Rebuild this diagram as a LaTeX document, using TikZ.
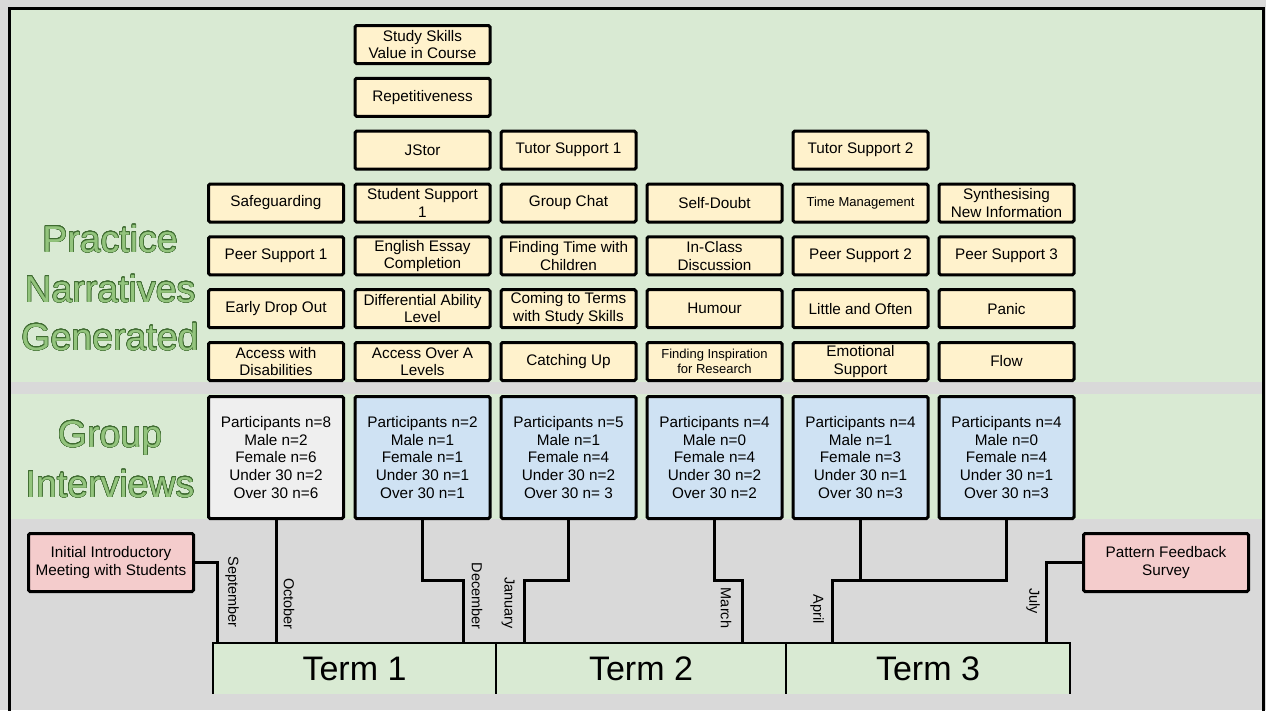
\documentclass[tikz,border=0pt]{standalone}
\usepackage{fontspec}
\setmainfont{Liberation Sans}
\usepackage{contour}
\contourlength{0.5pt}
\contournumber{24}

\definecolor{bggrey}{HTML}{D9D9D9}
\definecolor{panelgreen}{HTML}{D9EAD3}
\definecolor{boxyellow}{HTML}{FFF2CC}
\definecolor{boxblue}{HTML}{CFE2F3}
\definecolor{boxgrey}{HTML}{EFEFEF}
\definecolor{boxpink}{HTML}{F4CCCC}
\definecolor{titlegreen}{HTML}{93C47D}
\definecolor{titleline}{HTML}{3E6B30}

\begin{document}
\begin{tikzpicture}[x=1pt,y=-1pt,
  tag/.style={draw=black, line width=3pt, rounded corners=1.5pt, fill=boxyellow,
    minimum width=135pt, minimum height=38pt, inner sep=1pt, align=center,
    font=\fontsize{15.3}{17.5}\selectfont},
  smalltag/.style={tag, font=\fontsize{13}{15}\selectfont},
  interview/.style={tag, fill=boxblue, minimum height=122pt,
    font=\fontsize{15.3}{17.8}\selectfont},
  eventbox/.style={tag, fill=boxpink, minimum width=165pt, minimum height=58pt},
  heading/.style={anchor=base, inner sep=0pt, text=titlegreen,
    font=\fontsize{37.5}{45}\selectfont},
  month/.style={rotate=-90, inner sep=0pt, font=\fontsize{14.5}{16}\selectfont},
  termcell/.style={fill=panelgreen, inner sep=0pt, minimum height=51pt,
    font=\fontsize{34}{40}\selectfont},
  link/.style={draw=black, line width=3pt},
  barline/.style={draw=black, line width=2.5pt}]

\useasboundingbox (0,0) rectangle (1266,710);
\clip (0,0) rectangle (1266,710);

% backgrounds and bands
\fill[bggrey] (0,0) rectangle (1266,710);
\fill[panelgreen] (10,9) rectangle (1263,382);
\fill[panelgreen] (10,394) rectangle (1263,519);
\draw[line width=3pt] (9.5,8.5) rectangle (1263.5,730);

% section headings
\node[heading] (hPractice) at (110,252) {\contour{titleline}{Practice}};
\node[heading] (hNarr) at (110,302) {\contour{titleline}{Narratives}};
\node[heading] (hGen) at (110,350) {\contour{titleline}{Generated}};
\node[heading] (hGroup) at (110,447) {\contour{titleline}{Group}};
\node[heading] (hInt) at (110,497) {\contour{titleline}{Interviews}};

% column 1
\node[tag] (c1r3) at (276,203) {Safeguarding};
\node[tag] (c1r4) at (276,255.8) {Peer Support 1};
\node[tag] (c1r5) at (276,308.7) {Early Drop Out};
\node[tag] (c1r6) at (276,361.5) {Access with\\Disabilities};

% column 2
\node[tag] (c2r0) at (422.5,44.5) {Study Skills\\Value in Course};
\node[tag] (c2r1) at (422.5,97.3) {Repetitiveness};
\node[tag] (c2r2) at (422.5,150.2) {JStor};
\node[tag] (c2r3) at (422.5,203) {Student Support\\1};
\node[tag] (c2r4) at (422.5,255.8) {English Essay\\Completion};
\node[tag] (c2r5) at (422.5,308.7) {Differential Ability\\Level};
\node[tag] (c2r6) at (422.5,361.5) {Access Over A\\Levels};

% column 3
\node[tag] (c3r2) at (568.5,150.2) {Tutor Support 1};
\node[tag] (c3r3) at (568.5,203) {Group Chat};
\node[tag] (c3r4) at (568.5,255.8) {Finding Time with\\Children};
\node[tag] (c3r5) at (568.5,308.7) {Coming to Terms\\with Study Skills};
\node[tag] (c3r6) at (568.5,361.5) {Catching Up};

% column 4
\node[tag] (c4r3) at (714.5,203) {Self-Doubt};
\node[tag] (c4r4) at (714.5,255.8) {In-Class\\Discussion};
\node[tag] (c4r5) at (714.5,308.7) {Humour};
\node[smalltag] (c4r6) at (714.5,361.5) {Finding Inspiration\\for Research};

% column 5
\node[tag] (c5r2) at (860.5,150.2) {Tutor Support 2};
\node[smalltag] (c5r3) at (860.5,203) {Time Management};
\node[tag] (c5r4) at (860.5,255.8) {Peer Support 2};
\node[tag] (c5r5) at (860.5,308.7) {Little and Often};
\node[tag] (c5r6) at (860.5,361.5) {Emotional\\Support};

% column 6
\node[tag] (c6r3) at (1006.5,203) {Synthesising\\New Information};
\node[tag] (c6r4) at (1006.5,255.8) {Peer Support 3};
\node[tag] (c6r5) at (1006.5,308.7) {Panic};
\node[tag] (c6r6) at (1006.5,361.5) {Flow};

% group interviews
\node[interview, fill=boxgrey] (iv1) at (276,457.5)
  {Participants n=8\\Male n=2\\Female n=6\\Under 30 n=2\\Over 30 n=6};
\node[interview] (iv2) at (422.5,457.5)
  {Participants n=2\\Male n=1\\Female n=1\\Under 30 n=1\\Over 30 n=1};
\node[interview] (iv3) at (568.5,457.5)
  {Participants n=5\\Male n=1\\Female n=4\\Under 30 n=2\\Over 30 n= 3};
\node[interview] (iv4) at (714.5,457.5)
  {Participants n=4\\Male n=0\\Female n=4\\Under 30 n=2\\Over 30 n=2};
\node[interview] (iv5) at (860.5,457.5)
  {Participants n=4\\Male n=1\\Female n=3\\Under 30 n=1\\Over 30 n=3};
\node[interview] (iv6) at (1006.5,457.5)
  {Participants n=4\\Male n=0\\Female n=4\\Under 30 n=1\\Over 30 n=3};

% events outside the terms
\node[eventbox] (intro) at (111,562.5) {Initial Introductory\\Meeting with Students};
\node[eventbox] (survey) at (1166,562.5) {Pattern Feedback\\Survey};

% term bar
\node[termcell, minimum width=283pt] (term1) at (354.5,668.5) {Term 1};
\node[termcell, minimum width=290pt] (term2) at (641,668.5) {Term 2};
\node[termcell, minimum width=284pt] (term3) at (928,668.5) {Term 3};
\draw[barline] (term1.south west) -- (term1.north west) -- (term3.north east) -- (term3.south east);
\draw[barline] (term1.north east) -- (term1.south east);
\draw[barline] (term2.north east) -- (term2.south east);

% points where the months meet the bar
\coordinate (sep) at (217,643);
\coordinate (oct) at (276,643);
\coordinate (dec) at (463,643);
\coordinate (jan) at (524,643);
\coordinate (mar) at (742,643);
\coordinate (apr) at (832,643);
\coordinate (jul) at (1046,643);

% elbows of the connectors
\coordinate (sepTurn) at (217,562.5);
\coordinate (decTurn) at (463,580);
\coordinate (janTurn) at (524,580);
\coordinate (marTurn) at (742,580);
\coordinate (aprTurn) at (832,580);
\coordinate (julTurn) at (1046,562.5);

% connectors
\draw[link] (intro.east) -- (sepTurn) -- (sep);
\draw[link] (iv1.south) -- (oct);
\draw[link] (iv2.south) |- (decTurn) -- (dec);
\draw[link] (iv3.south) |- (janTurn) -- (jan);
\draw[link] (iv4.south) |- (marTurn) -- (mar);
\draw[link] (iv6.south) |- (aprTurn) -- (apr);
\draw[link] (iv5.south) -- (iv5.south |- aprTurn);
\draw[link] (survey.west) -- (julTurn) -- (jul);

% month labels
\node[month] (lSep) at (232,592) {September};
\node[month] (lOct) at (289,604) {October};
\node[month] (lDec) at (477,596) {December};
\node[month] (lJan) at (508,603) {January};
\node[month] (lMar) at (726,608) {March};
\node[month] (lApr) at (817,609) {April};
\node[month] (lJul) at (1033,601) {July};

\end{tikzpicture}
\end{document}
